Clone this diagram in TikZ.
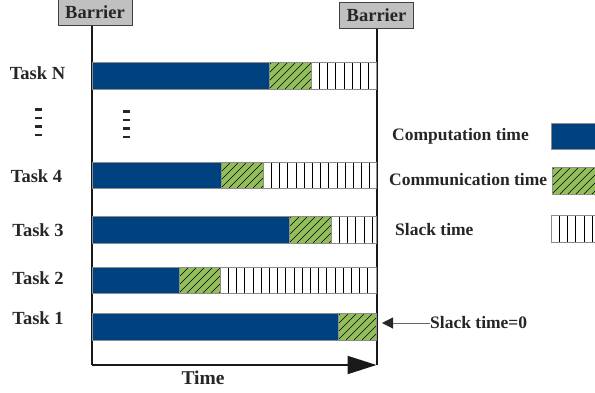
\documentclass[tikz,border=0pt]{standalone}
\usepackage{fontspec}
\setmainfont{Liberation Serif}
\usetikzlibrary{arrows.meta}
\definecolor{compblue}{HTML}{00427F}
\definecolor{commgreen}{HTML}{93BE5A}
\definecolor{barborder}{HTML}{8C8C8C}
\definecolor{txt}{HTML}{262626}
\definecolor{barrierfill}{HTML}{C0C0C0}
\newcommand{\hatchbox}[4]{% x1 x2 y1 y2
  \fill[commgreen] (#1,#3) rectangle (#2,#4);
  \begin{scope}
    \clip (#1,#3) rectangle (#2,#4);
    \foreach \k in {-40,-32,...,80}{
      \draw[black,line width=0.6pt] ({#1+\k},#4) -- ++(30,-30);
    }
  \end{scope}
  \draw[barborder,line width=1pt] (#1,#3) rectangle (#2,#4);
}
\newcommand{\slackbox}[4]{% x1 x2 y1 y2
  \fill[white] (#1,#3) rectangle (#2,#4);
  \begin{scope}
    \clip (#1,#3) rectangle (#2,#4);
    \foreach \k in {8.2,16.4,...,300}{
      \draw[black,line width=0.6pt] ({#1+\k},#3) -- ({#1+\k},#4);
    }
  \end{scope}
  \draw[barborder,line width=1pt] (#1,#3) rectangle (#2,#4);
}
\newcommand{\compbox}[4]{%
  \fill[compblue] (#1,#3) rectangle (#2,#4);
  \draw[barborder,line width=1pt] (#1,#3) rectangle (#2,#4);
}
\tikzset{
  lbl/.style={font=\fontsize{18.5}{21}\selectfont\bfseries, text=txt, inner sep=0pt},
  leg/.style={font=\fontsize{17.5}{20}\selectfont\bfseries, text=txt, inner sep=0pt, anchor=west},
  barrier/.style={draw=black!75, fill=barrierfill, line width=1pt, inner sep=0pt,
    minimum width=74pt, minimum height=26pt, font=\fontsize{18.5}{21}\selectfont\bfseries, text=txt},
  vline/.style={line width=2pt, black!90},
  vdots/.style={line width=7pt, txt, dash pattern=on 2.8pt off 5.7pt},
}
\begin{document}
\begin{tikzpicture}[x=1pt,y=-1pt]
\useasboundingbox (0,0) rectangle (595,392);
% barriers
\node[barrier] (b1) at (95,12.5) {Barrier};
\node[barrier] (b2) at (376.5,15) {Barrier};
\coordinate (t0) at (91.5,365);
\coordinate (t1) at (376.5,365);
\draw[vline] (b1.south -| t0) -- (t0);
\draw[vline] (b2.south) -- (t1);
% time arrow
\draw[line width=2pt, black!90, -{Triangle[length=29pt,width=18pt]}] (t0) -- (t1);
\node[lbl, font=\fontsize{19.5}{22}\selectfont\bfseries] (time) at (203,378) {Time};
% task labels
\node[lbl] (tn) at (37.5,73) {Task N};
\node[lbl] (t4) at (36.5,176) {Task 4};
\node[lbl] (t3) at (38,230) {Task 3};
\node[lbl] (t2) at (38,278.5) {Task 2};
\node[lbl] (t1l) at (38,318) {Task 1};
% bars
\compbox{92}{269}{62}{89}\hatchbox{269}{311}{62}{89}\slackbox{311}{376}{62}{89}
\compbox{92}{221}{162}{188}\hatchbox{221}{263}{162}{188}\slackbox{263}{376}{162}{188}
\compbox{92}{289}{216}{243}\hatchbox{289}{331}{216}{243}\slackbox{331}{376}{216}{243}
\compbox{92}{179}{267}{293}\hatchbox{179}{220}{267}{293}\slackbox{220}{376}{267}{293}
\compbox{92}{338}{313}{340}\hatchbox{338}{376}{313}{340}
% vertical dots
\draw[vdots] (38,108) -- (38,137);
\draw[vdots] (126,110) -- (126,139);
% legend
\node[leg] (lc) at (392,136) {Computation time};
\node[leg] (lm) at (389,180) {Communication time};
\node[leg] (ls) at (395,230) {Slack time};
\compbox{551}{600}{123}{149}
\hatchbox{552}{600}{167}{194}
\slackbox{551}{600}{215}{242}
% slack time = 0
\node[leg] (s0) at (430,323) {Slack time=0};
\coordinate (s0tip) at (382,323);
\draw[black!60, line width=1pt, -{Triangle[length=11pt,width=11pt,color=txt]}] (s0.west) -- (s0tip);
\end{tikzpicture}
\end{document}
